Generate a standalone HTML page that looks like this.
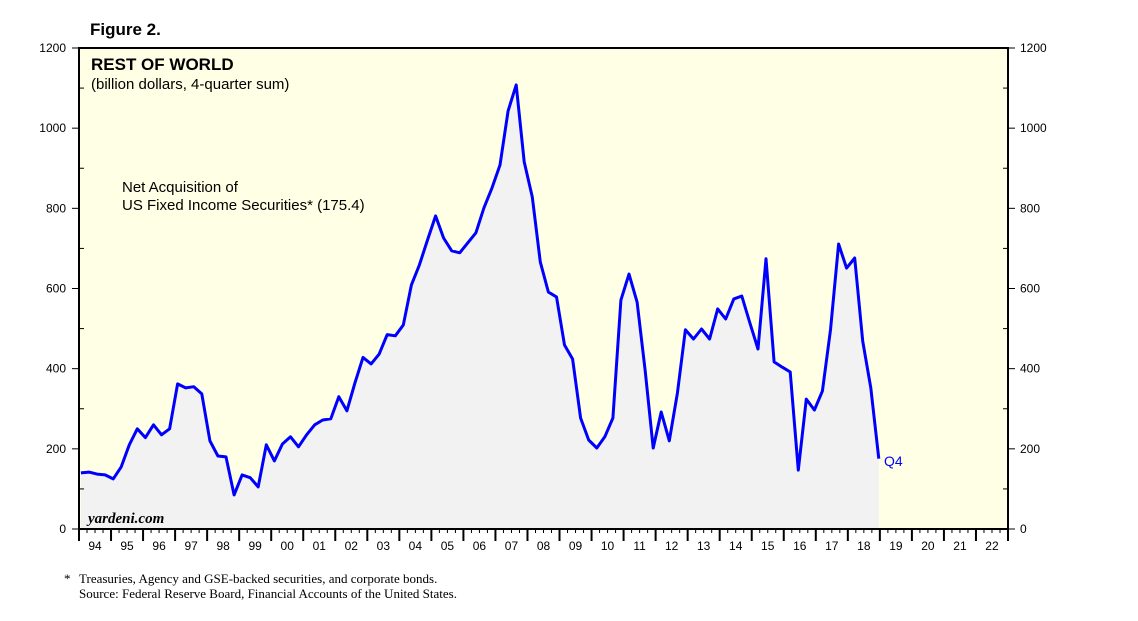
<!DOCTYPE html>
<html><head><meta charset="utf-8"><style>
body{margin:0;background:#fff;width:1138px;height:621px;overflow:hidden}
svg{display:block}
</style></head><body>
<svg id="chart" width="1138" height="621" xmlns="http://www.w3.org/2000/svg" font-family="Liberation Sans, sans-serif">
<rect x="79" y="48" width="929" height="481" fill="#FFFFE5"/>
<path id="area" fill="#F2F2F2" stroke="none"/>
<path id="line" fill="none" stroke="#0000FF" stroke-width="3" stroke-linejoin="round"/>
<rect x="79" y="48" width="929" height="481" fill="none" stroke="#000" stroke-width="2"/>
<g id="axes"></g>
<text x="90" y="35" font-size="17" font-weight="bold">Figure 2.</text>
<text x="91" y="70" font-size="17" font-weight="bold">REST OF WORLD</text>
<text x="91" y="89" font-size="15">(billion dollars, 4-quarter sum)</text>
<text x="122" y="192" font-size="15">Net Acquisition of</text>
<text x="122" y="210" font-size="15">US Fixed Income Securities* (175.4)</text>
<text x="88" y="523" font-size="15" font-style="italic" font-weight="bold" font-family="Liberation Serif, serif">yardeni.com</text>
<text x="884" y="466" font-size="14" fill="#0000FF">Q4</text>
<text x="64" y="583" font-size="13" font-family="Liberation Serif, serif">*</text>
<text x="79" y="583" font-size="13" font-family="Liberation Serif, serif">Treasuries, Agency and GSE-backed securities, and corporate bonds.</text>
<text x="79" y="598" font-size="13" font-family="Liberation Serif, serif">Source: Federal Reserve Board, Financial Accounts of the United States.</text>
</svg>
<script>
const values=[140,142,137,135,125,155,210,250,228,260,235,250,362,352,355,337,220,182,180,85,135,128,105,210,170,212,230,205,235,260,272,275,330,295,365,428,412,436,485,482,
509,609,659,721,781,726,694,689,714,739,801,851,908,1043,1108,916,828,666,591,579,459,424,277,222,202,230,277,571,636,
566,397,202,292,220,339,497,474,499,474,549,524,574,581,514,449,674,417,404,392,147,324,297,344,497,711,651,676,469,352,175.4];
const startYear=1994, endYear=2023;
const yTicks=[0,200,400,600,800,1000,1200];
const yearLabels=["94","95","96","97","98","99","00","01","02","03","04","05","06","07","08","09","10","11","12","13","14","15","16","17","18","19","20","21","22"];
const L=79,R=1008,T=48,B=529;
const xs=t=>L+(t-startYear)/(endYear-startYear)*(R-L);
const ys=v=>B-v/1200*(B-T);
const NS="http://www.w3.org/2000/svg";
function mk(tag,attrs,parent){const e=document.createElementNS(NS,tag);for(const k in attrs)e.setAttribute(k,attrs[k]);parent.appendChild(e);return e;}
const ax=document.getElementById('axes');
let pts=values.map((v,i)=>[xs(startYear+0.06+i*0.2516),ys(v)]);
let d=pts.map((p,i)=>(i?'L':'M')+p[0].toFixed(1)+','+p[1].toFixed(1)).join('');
document.getElementById('line').setAttribute('d',d);
document.getElementById('area').setAttribute('d',d+'L'+pts[pts.length-1][0].toFixed(1)+','+B+'L'+pts[0][0].toFixed(1)+','+B+'Z');
for(let v=0;v<=1200;v+=100){
  const y=ys(v);
  if(v%200===0){
    mk('line',{x1:L-7,y1:y,x2:L,y2:y,stroke:'#000','stroke-width':1},ax);
    mk('line',{x1:R,y1:y,x2:R+7,y2:y,stroke:'#000','stroke-width':1},ax);
  }else{
    mk('line',{x1:L,y1:y,x2:L+5,y2:y,stroke:'#000','stroke-width':1},ax);
    mk('line',{x1:R-5,y1:y,x2:R,y2:y,stroke:'#000','stroke-width':1},ax);
  }
}
yTicks.forEach(v=>{
  const t1=mk('text',{x:L-13,y:ys(v)+4,'font-size':12,'text-anchor':'end'},ax);
  
  
  t1.textContent=v;
  const t2=mk('text',{x:R+12,y:ys(v)+4,'font-size':12},ax);
  
  
  t2.textContent=v;
});
for(let yr=startYear;yr<=endYear;yr++){
  const x=xs(yr);
  mk('line',{x1:x,y1:B,x2:x,y2:B+12,stroke:'#000','stroke-width':2},ax);
  if(yr<endYear)for(let q=1;q<4;q++){const xq=xs(yr+q/4);mk('line',{x1:xq,y1:B,x2:xq,y2:B+4,stroke:'#000','stroke-width':1},ax);}
}
yearLabels.forEach((lab,i)=>{
  const t=mk('text',{x:xs(startYear+i+0.5),y:B+21,'font-size':12,'text-anchor':'middle'},ax);
  
  
  t.textContent=lab;
});
</script>
</body></html>
